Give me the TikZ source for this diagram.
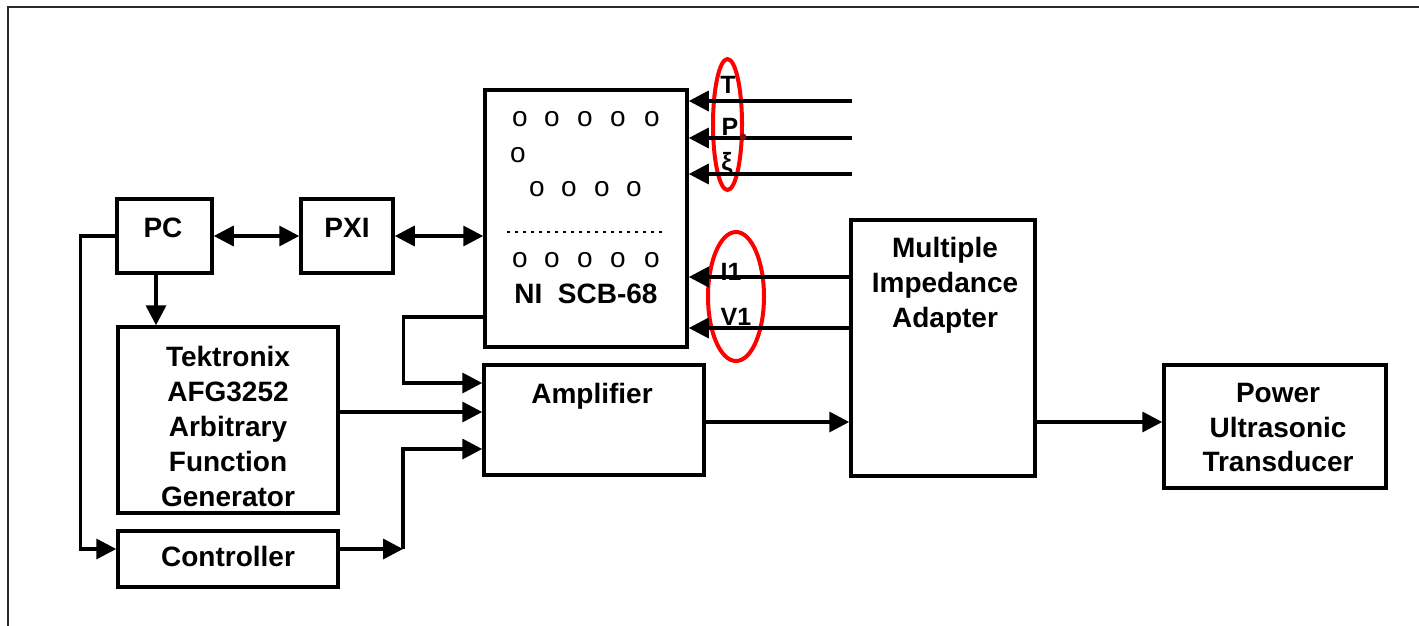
\documentclass[tikz,border=0pt]{standalone}
\usepackage{fontspec}
\setmainfont{Liberation Sans}
\usepackage{tikz}
\usetikzlibrary{arrows.meta,positioning,calc,shapes.geometric}
\definecolor{ringred}{HTML}{FF0000}
\definecolor{framegray}{HTML}{2A2A2A}
\definecolor{dotred}{HTML}{7A1010}

\begin{document}
\begin{tikzpicture}[
    x=1pt, y=-1pt,
    font=\fontsize{28}{35}\selectfont\bfseries,
    box/.style={draw, line width=3.5pt, fill=white, inner sep=0pt},
    txt/.style={align=center, inner sep=0pt},
    hole/.style={font=\fontsize{28}{35}\selectfont\mdseries, inner sep=0pt},
    sig/.style={font=\fontsize{25}{30}\selectfont\bfseries, inner sep=0pt, anchor=base},
    ring/.style={ellipse, draw=ringred, line width=4pt, inner sep=0pt},
    arr/.style={-{Triangle[length=20pt,width=20pt]}, line width=3.5pt},
    darr/.style={{Triangle[length=20pt,width=20pt]}-{Triangle[length=20pt,width=20pt]}, line width=3.5pt}
  ]
  \useasboundingbox (0,0) rectangle (1419,626);
  \draw[framegray, line width=2pt] (8,626) -- (8,7) -- (1419,7);

  \node[box, minimum width=95, minimum height=74] (pc) at (164.5,236) {};
  \node[box, minimum width=92, minimum height=74] (pxi) at (347,236) {};
  \node[box, minimum width=202, minimum height=257] (ni) at (586,218.5) {};
  \node[box, minimum width=220, minimum height=186] (tek) at (228,420) {};
  \node[box, minimum width=220, minimum height=56] (ctrl) at (228,559) {};
  \node[box, minimum width=220, minimum height=110] (amp) at (594,420) {};
  \node[box, minimum width=184, minimum height=256] (mia) at (943,348) {};
  \node[box, minimum width=222, minimum height=123] (put) at (1275,426.5) {};

  \node[txt, anchor=base] (pclab) at (163,237) {PC};
  \node[txt, anchor=base] (pxilab) at (347,237) {PXI};
  \node[txt, anchor=base] (amplab) at (592,403) {Amplifier};
  \node[txt, anchor=base] (ctrllab) at (228,566) {Controller};
  \node[txt, anchor=base] (nilab) at (586,303) {NI\ \ SCB-68};
  \node[txt] (teklab) at (228,426) {Tektronix\\AFG3252\\Arbitrary\\Function\\Generator};
  \node[txt] (mialab) at (945,285) {Multiple\\Impedance\\Adapter};
  \node[txt] (putlab) at (1278,427.5) {Power\\Ultrasonic\\Transducer};

  \foreach \x in {520,552,585,618,652} \node[hole] (ha\x) at (\x,119) {o};
  \node[hole] (hb) at (518,155) {o};
  \foreach \x in {537,569,602,634} \node[hole] (hc\x) at (\x,189) {o};
  \draw[line width=2.5pt, dash pattern=on 2.5pt off 5.5pt] (507,232) -- (665,232);
  \foreach \x in {520,552,585,618,652} \node[hole] (hd\x) at (\x,260) {o};

  \node[ring, minimum width=29, minimum height=131] (ring1) at (727.5,124.5) {};
  \node[ring, minimum width=56, minimum height=129] (ring2) at (736,296.5) {};

  \draw[darr] (pc.east) -- (pxi.west);
  \draw[darr] (pxi.east) -- (pxi.east -| ni.west);
  \draw[arr] ([xshift=-8.5pt]pc.south) -- ([xshift=-8.5pt]pc.south |- tek.north);
  \draw[arr] (pc.west) -- ++(-35,0) |- ([yshift=10pt]ctrl.west);
  \coordinate (jn) at (403,549);
  \draw[arr] ([yshift=10pt]ctrl.east) -- (jn);
  \draw[arr] (jn) |- ([yshift=-29pt]amp.west);
  \draw[arr] ([yshift=-98.5pt]ni.west) -- ++(-80,0) |- ([yshift=37pt]amp.west);
  \draw[arr] ([yshift=8pt]tek.east) -- ([yshift=8pt]amp.west);
  \draw[arr] ([yshift=-2pt]amp.east) -- ([yshift=-2pt]amp.east -| mia.west);
  \draw[arr] ([yshift=4.5pt]put.west -| mia.east) -- ([yshift=4.5pt]put.west);

  \coordinate (tsrc) at (852,101);
  \coordinate (psrc) at (852,138);
  \coordinate (xsrc) at (852,174);
  \draw[arr] (tsrc) -- (tsrc -| ni.east);
  \draw[arr] (psrc) -- (psrc -| ni.east);
  \draw[arr] (xsrc) -- (xsrc -| ni.east);
  \draw[arr] ([yshift=71pt]mia.west) -- ([yshift=71pt]mia.west -| ni.east);
  \draw[arr] ([yshift=20pt]mia.west) -- ([yshift=20pt]mia.west -| ni.east);

  \node[circle, fill=dotred, inner sep=0pt, minimum size=7pt] (pdot) at (743,137) {};
  \node[sig] (tlab) at (728,93) {T};
  \node[sig] (plab) at (730,135) {P};
  \node[sig] (xlab) at (727,170) {ξ};
  \node[sig] (ilab) at (731,280) {I1};
  \node[sig] (vlab) at (736,325) {V1};
\end{tikzpicture}
\end{document}
